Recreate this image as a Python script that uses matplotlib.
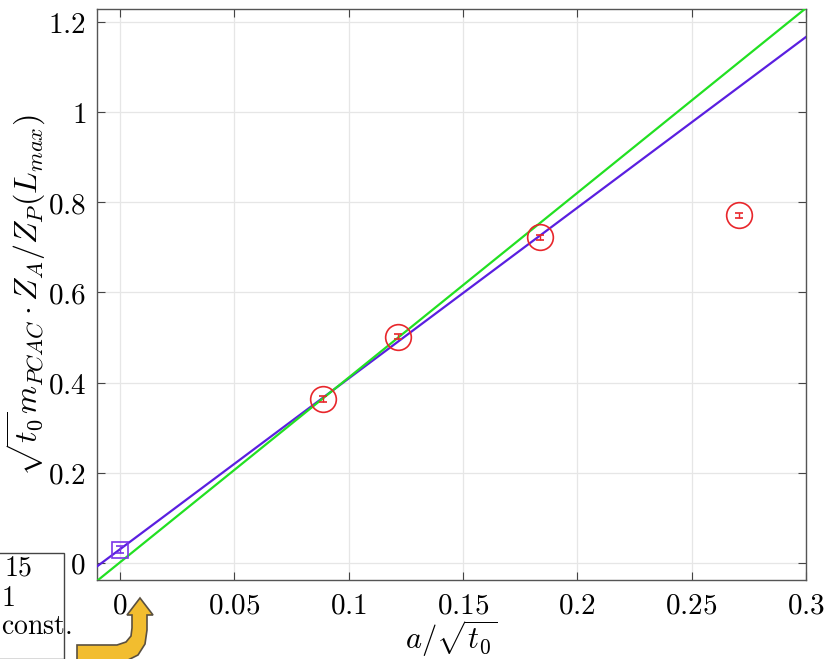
import numpy as np
import matplotlib
matplotlib.use('agg')
import matplotlib.pyplot as plt
from matplotlib.patches import Polygon, Rectangle

plt.rcParams.update({
    "mathtext.fontset": "cm",
    "font.family": "serif",
    "font.serif": ["DejaVu Serif"],
})

# data points (a/sqrt(t0), value, error)
x_pts = [0.0888, 0.1216, 0.1837, 0.2708]
y_pts = [0.364, 0.502, 0.722, 0.771]
y_err = [0.006, 0.006, 0.006, 0.006]

# continuum value
x_cont = [0.0]
y_cont = [0.029]
y_cont_err = [0.008]

# fit lines: slope, intercept
fit_purple = (3.79, 0.030)
fit_green = (4.10, 0.001)

xticks = [0, 0.05, 0.1, 0.15, 0.2, 0.25, 0.3]
yticks = [0, 0.2, 0.4, 0.6, 0.8, 1, 1.2]

fig = plt.figure(figsize=(8.25, 6.59), dpi=100)
ax = fig.add_axes([97/825, 1-580/659, (806-97)/825, (580-9)/659])

xl = np.array([-0.01, 0.3])
ax.plot(xl, fit_purple[0]*xl + fit_purple[1], color='#5a1fe0', lw=1.6, zorder=3)
ax.plot(xl, fit_green[0]*xl + fit_green[1], color='#22e022', lw=1.6, zorder=3)

ax.errorbar(x_pts, y_pts, yerr=y_err, fmt='o', mfc='none', mec='#e8262b',
            ecolor='#e8262b', ms=18.5, mew=1.2, capsize=3, elinewidth=1, zorder=4)
ax.errorbar(x_cont, y_cont, yerr=y_cont_err, fmt='s', mfc='none', mec='#7a35e8',
            ecolor='#7a35e8', ms=11, mew=1.2, capsize=3, elinewidth=1, zorder=4)

ax.set_xlim(-0.01, 0.3)
ax.set_ylim(-0.038, 1.229)
ax.set_xticks(xticks)
ax.set_yticks(yticks)
ax.set_xticklabels(['$%g$' % v for v in xticks], fontsize=21)
ax.set_yticklabels(['$%g$' % v for v in yticks], fontsize=21)
ax.tick_params(direction='in', top=True, right=True, length=6, color='#444444', pad=8)
ax.grid(True, color='#e6e6e6', lw=0.9)
ax.set_axisbelow(True)
for s in ax.spines.values():
    s.set_color('#555555')
    s.set_linewidth(1.0)

ax.set_xlabel(r'$a/\sqrt{t_0}$', fontsize=22, labelpad=-1)
ax.set_ylabel(r'$\sqrt{t_0}m_{PCAC}\cdot Z_A/Z_P(L_{max})$', fontsize=23, labelpad=0)

# partially visible legend box at bottom left
fig.patches.append(Rectangle((-60/825, 0), 124/825, (659-553)/659, transform=fig.transFigure,
                             fill=False, edgecolor='#444444', lw=1.0, clip_on=False))
fig.text(4/825, 1-568/659, '$15$', fontsize=20, va='center', ha='left')
fig.text(1/825, 1-598/659, '$1$', fontsize=20, va='center', ha='left')
fig.text(1/825, 1-627/659, r'$\mathrm{const.}$', fontsize=20, va='center', ha='left')

# yellow arrow
arrow_px = [(77, 645), (117, 645), (126, 642), (131, 636), (132, 628), (132, 615), (127, 615),
            (140, 598), (153, 615), (147, 615), (147, 630), (145, 644), (138, 655),
            (126, 661), (117, 662), (77, 662)]
arrow = Polygon([(px/825, 1-py/659) for px, py in arrow_px], closed=True,
                transform=fig.transFigure, facecolor='#f2bd2f', edgecolor='#5a5040', lw=1.2)
fig.patches.append(arrow)

fig.savefig('out.png', dpi=100)
